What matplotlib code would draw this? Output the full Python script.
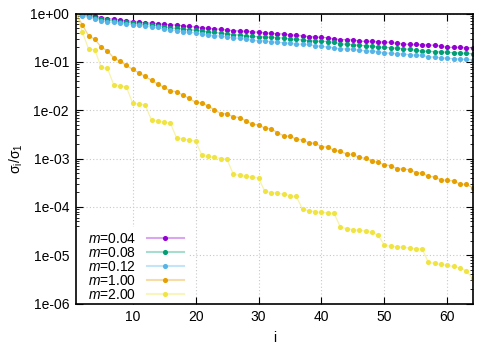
import numpy as np
import matplotlib
matplotlib.use("Agg")
import matplotlib.pyplot as plt
from matplotlib.lines import Line2D
from matplotlib.patches import Rectangle
from matplotlib.ticker import FixedLocator, FixedFormatter, LogLocator, NullFormatter, NullLocator

plt.rcParams['font.family'] = ['Liberation Sans', 'DejaVu Sans']
plt.rcParams['mathtext.fontset'] = 'custom'
plt.rcParams['mathtext.rm'] = 'Liberation Sans'
plt.rcParams['mathtext.it'] = 'Liberation Sans:italic'

idx = list(range(1, 65))

s_m004 = [1.0, 0.967, 0.931, 0.879, 0.826, 0.788, 0.758, 0.733, 0.709, 0.683,
          0.660, 0.642, 0.630, 0.612, 0.597, 0.589, 0.572, 0.556, 0.540, 0.525,
          0.513, 0.493, 0.484, 0.470, 0.455, 0.440, 0.434, 0.428, 0.420, 0.408,
          0.400, 0.389, 0.380, 0.376, 0.364, 0.353, 0.342, 0.334, 0.326, 0.321,
          0.315, 0.299, 0.289, 0.286, 0.285, 0.269, 0.265, 0.264, 0.260, 0.257,
          0.253, 0.241, 0.233, 0.230, 0.229, 0.226, 0.222, 0.221, 0.209, 0.200,
          0.199, 0.198, 0.197, 0.193]

s_m008 = [1.0, 0.922, 0.879, 0.826, 0.769, 0.726, 0.706, 0.676, 0.660, 0.633,
          0.612, 0.594, 0.575, 0.564, 0.538, 0.503, 0.493, 0.477, 0.461, 0.451,
          0.438, 0.414, 0.408, 0.389, 0.376, 0.364, 0.358, 0.342, 0.337, 0.331,
          0.327, 0.321, 0.315, 0.311, 0.296, 0.293, 0.282, 0.273, 0.269, 0.265,
          0.263, 0.253, 0.237, 0.230, 0.226, 0.219, 0.215, 0.212, 0.202, 0.199,
          0.196, 0.190, 0.186, 0.181, 0.173, 0.167, 0.165, 0.162, 0.161, 0.157,
          0.154, 0.153, 0.150, 0.147]

s_m012 = [1.0, 0.875, 0.834, 0.780, 0.709, 0.667, 0.657, 0.626, 0.615, 0.586,
          0.569, 0.551, 0.525, 0.518, 0.477, 0.459, 0.442, 0.423, 0.410, 0.394,
          0.376, 0.353, 0.347, 0.342, 0.326, 0.315, 0.306, 0.296, 0.278, 0.273,
          0.272, 0.260, 0.253, 0.248, 0.241, 0.233, 0.232, 0.230, 0.215, 0.209,
          0.202, 0.196, 0.186, 0.184, 0.181, 0.173, 0.169, 0.167, 0.162, 0.154,
          0.150, 0.147, 0.146, 0.140, 0.138, 0.136, 0.127, 0.125, 0.121, 0.118,
          0.116, 0.114, 0.112, 0.110]

s_m100 = [1.0, 0.586, 0.347, 0.292, 0.202, 0.169, 0.120, 0.102, 0.0843, 0.0697,
          0.0593, 0.0499, 0.0413, 0.0346, 0.0295, 0.0251, 0.0240, 0.0205, 0.0175, 0.0145,
          0.0142, 0.0121, 0.0102, 0.00853, 0.00839, 0.00728, 0.00705, 0.00601, 0.00513, 0.00497,
          0.00424, 0.00410, 0.00345, 0.00294, 0.00289, 0.00251, 0.00243, 0.00210, 0.00207, 0.00177,
          0.00171, 0.00148, 0.00141, 0.00124, 0.00121, 0.00105, 0.00101, 0.000877, 0.000836, 0.000736,
          0.000714, 0.000619, 0.000598, 0.000590, 0.000512, 0.000494, 0.000429, 0.000415, 0.000360, 0.000354,
          0.000343, 0.000297, 0.000292, 0.000250]

s_m200 = [1.0, 0.42, 0.184, 0.175, 0.0767, 0.0731, 0.0335, 0.0319, 0.0304, 0.01396,
          0.0133, 0.0127, 0.00621, 0.00592, 0.00564, 0.00537, 0.00263, 0.00251, 0.00240, 0.00229,
          0.00117, 0.00110, 0.00105, 0.00100, 0.000955, 0.000472, 0.000450, 0.000429, 0.000408, 0.000395,
          0.000209, 0.000197, 0.000191, 0.000182, 0.000171, 0.000165, 8.87e-5, 8.32e-5, 7.94e-5, 7.69e-5,
          7.45e-5, 7.33e-5, 3.82e-5, 3.53e-5, 3.37e-5, 3.26e-5, 3.16e-5, 2.96e-5, 2.57e-5, 1.62e-5,
          1.52e-5, 1.49e-5, 1.45e-5, 1.40e-5, 1.36e-5, 1.34e-5, 7.08e-6, 6.75e-6, 6.43e-6, 6.14e-6,
          5.85e-6, 5.40e-6, 4.75e-6, 3.31e-6]

labels = [r'$m$=0.04', r'$m$=0.08', r'$m$=0.12', r'$m$=1.00', r'$m$=2.00']
series = [s_m004, s_m008, s_m012, s_m100, s_m200]
colors = ['#9400d3', '#009e73', '#56b4e9', '#e69f00', '#f0e442']

ytick_vals = [1e0, 1e-1, 1e-2, 1e-3, 1e-4, 1e-5, 1e-6]
ytick_labels = ['1e+00', '1e-01', '1e-02', '1e-03', '1e-04', '1e-05', '1e-06']
xtick_vals = [10, 20, 30, 40, 50, 60]

fig = plt.figure(figsize=(4.98, 3.49), dpi=100)
ax = fig.add_axes([76/498, 1-303.5/349, 396.5/498, 290/349])
ax.set_axisbelow(True)

handles = []
for s, c, lab in zip(series, colors, labels):
    rgb = matplotlib.colors.to_rgb(c)
    ax.plot(idx, s, color=rgb + (0.45,), lw=0.9, marker='o', ms=3.7,
            mfc=c, mec=c, mew=0, zorder=3)
    handles.append(Line2D([0], [0], color=rgb + (0.35,), lw=1.5, marker='o',
                          ms=3.7, mfc=c, mec=c, mew=0, label=lab))

ax.set_yscale('log')
ax.set_xlim(1, 64)
ax.set_ylim(1e-6, 1.0)
ax.yaxis.set_major_locator(FixedLocator(ytick_vals))
ax.yaxis.set_major_formatter(FixedFormatter(ytick_labels))
ax.yaxis.set_minor_locator(LogLocator(base=10, subs=np.arange(2, 10), numticks=20))
ax.yaxis.set_minor_formatter(NullFormatter())
ax.xaxis.set_major_locator(FixedLocator(xtick_vals))
ax.xaxis.set_minor_locator(NullLocator())

ax.tick_params(which='both', direction='in', top=True, right=True, labelsize=10, colors='black')
ax.tick_params(which='major', length=5, width=0.8, pad=5)
ax.tick_params(which='minor', length=2.5, width=0.6)
for sp in ax.spines.values():
    sp.set_linewidth(1.2)
    sp.set_zorder(6)

ax.grid(True, which='major', color='#c8c8c8', linestyle=(0, (1, 2)), lw=0.8)

# opaque key background (covers the grid like the reference)
ax.add_patch(Rectangle((0, 0), (188 - 76) / 396.5, (303.5 - 227) / 290,
                       transform=ax.transAxes, facecolor='white', edgecolor='none', zorder=2))

ax.set_xlabel('i', fontsize=10, labelpad=5)
ax.set_ylabel(r'$\mathregular{\sigma_i/\sigma_1}$', fontsize=10, labelpad=4)

leg = ax.legend(handles=handles, loc='lower left',
                bbox_to_anchor=((88 - 76) / 396.5, (303.5 - 302) / 290),
                markerfirst=False, frameon=False, fontsize=10,
                handlelength=2.7, handletextpad=0.75, labelspacing=0.0,
                borderpad=0.0, borderaxespad=0.0, numpoints=1)
leg.set_zorder(5)

fig.savefig('out.png', dpi=100)
